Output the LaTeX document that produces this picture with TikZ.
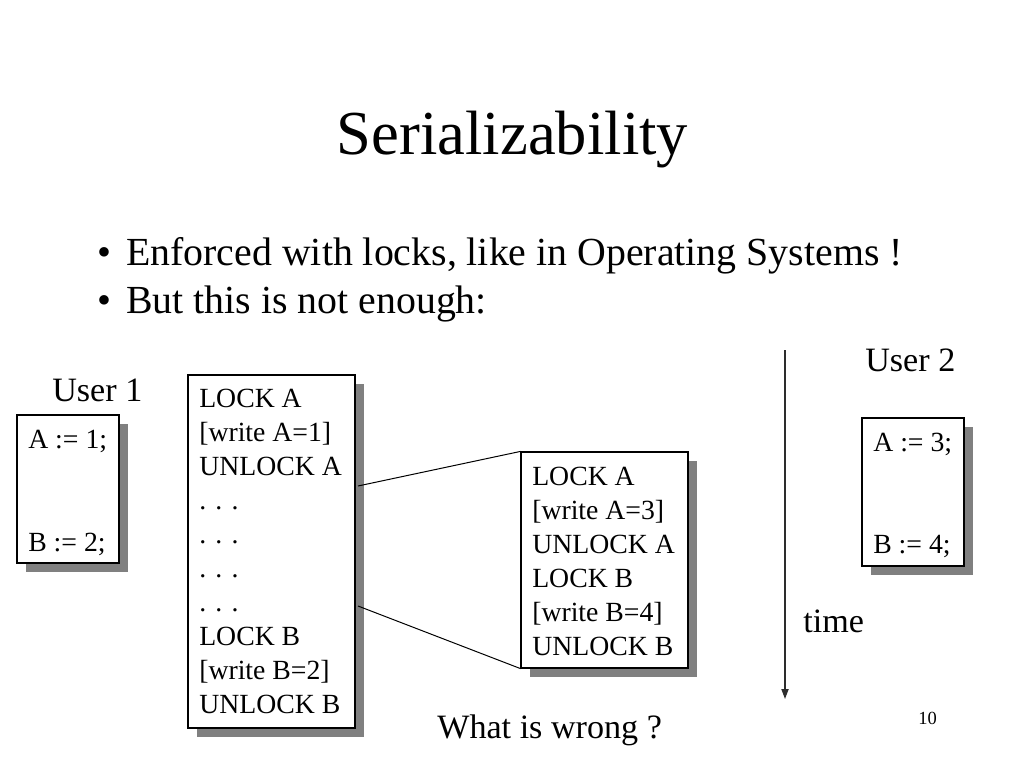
\documentclass[tikz,border=0pt]{standalone}
\usepackage{fontspec}
\setmainfont{Liberation Serif}
\usetikzlibrary{shadows,fit,arrows.meta}
\definecolor{shadowgray}{RGB}{128,128,128}
\definecolor{arrowgray}{RGB}{45,45,45}
\begin{document}
\begin{tikzpicture}[x=0.703125pt,y=-0.703125pt,
  box/.style={draw=black, line width=0.8pt, fill=white, inner sep=0pt,
    general shadow={fill=shadowgray, shadow xshift=6.3pt, shadow yshift=-6.3pt}},
  txt/.style={anchor=base west, inner sep=0pt, font=\fontsize{19.5}{24}\selectfont},
  lbl/.style={anchor=base west, inner sep=0pt, font=\fontsize{24}{29}\selectfont},
  bul/.style={anchor=base west, inner sep=0pt, font=\fontsize{28}{34}\selectfont},
  conn/.style={draw=black, line width=0.7pt}]
\useasboundingbox (0,0) rectangle (1024,768);

% title and bullets
\node[anchor=base, inner sep=0pt, font=\fontsize{44}{53}\selectfont] (title) at (512.5,155) {Serializability};
\node[bul] (d1) at (97,266) {•};
\node[bul] (l1) at (126,266) {Enforced with locks, like in Operating Systems !};
\node[bul] (d2) at (97,314) {•};
\node[bul] (l2) at (126,314) {But this is not enough:};

% User 1
\node[lbl] (user1) at (52,401) {User 1};
\node[box, fit={(17,415) (119,563)}] (u1) {};
\node[txt] (u1a) at (28,448) {A := 1;};
\node[txt] (u1b) at (28,551) {B := 2;};

% big box
\node[box, fit={(188,375) (355,728)}] (b1) {};
\foreach \t [count=\i from 0] in {{LOCK A},{[write A=1]},{UNLOCK A},{. . .},{. . .},{. . .},{. . .},{LOCK B},{[write B=2]},{UNLOCK B}}
  \node[txt] (b1t\i) at (199,{407.7+34*\i}) {\t};

% middle box
\node[box, fit={(521,452) (688,668)}] (b2) {};
\foreach \t [count=\i from 0] in {{LOCK A},{[write A=3]},{UNLOCK A},{LOCK B},{[write B=4]},{UNLOCK B}}
  \node[txt] (b2t\i) at (532,{485.7+33.9*\i}) {\t};

% connectors
\coordinate (p1) at (358,486);
\coordinate (p2) at (358,606);
\draw[conn] (p1) -- (b2.north west);
\draw[conn] (p2) -- (b2.south west);

% time arrow
\coordinate (ta) at (785,350);
\coordinate (tb) at (785,699);
\draw[draw=arrowgray, line width=1pt, -{Triangle[length=7pt,width=5pt]}] (ta) -- (tb);
\node[lbl] (time) at (803,632) {time};

% User 2
\node[lbl] (user2) at (865,371) {User 2};
\node[box, fit={(862,418) (964,566)}] (u2) {};
\node[txt] (u2a) at (873,451) {A := 3;};
\node[txt] (u2b) at (873,553) {B := 4;};

% bottom texts
\node[lbl] (wrong) at (437,738) {What is wrong ?};
\node[anchor=base west, inner sep=0pt, font=\fontsize{13}{16}\selectfont] (pg) at (918,724) {10};
\end{tikzpicture}
\end{document}
